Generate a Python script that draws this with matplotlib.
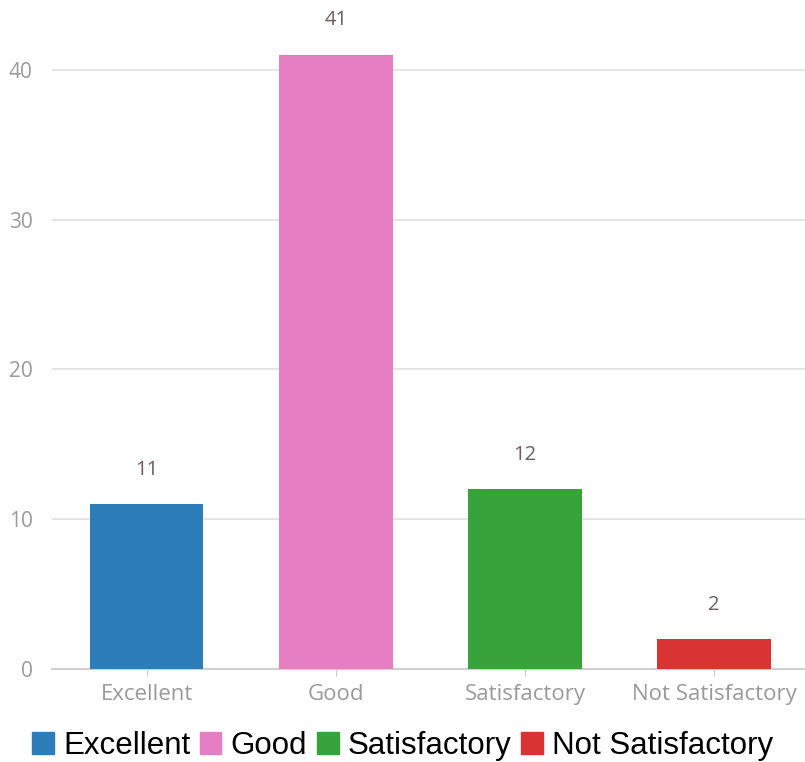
import matplotlib.pyplot as plt
from matplotlib.patches import Patch

categories = ["Excellent", "Good", "Satisfactory", "Not Satisfactory"]
counts = [11, 41, 12, 2]
colors = ["#2d7db8", "#e57ec3", "#38a33a", "#d93333"]
yticks = [0, 10, 20, 30, 40]

fig = plt.figure(figsize=(8.05, 7.62), dpi=100)
ax = fig.add_axes([52/805, 93/762, 753/805, 659/762])

x = range(len(categories))
ax.bar(x, counts, width=0.6, color=colors, zorder=3)
for i, v in enumerate(counts):
    ax.text(i, v + 2.3, str(v), ha="center", va="center",
            fontsize=14.5, color="#6e5e5e", family="Open Sans")

ax.set_xlim(-0.5, 3.48)
ax.set_ylim(0, 44)
ax.set_yticks(yticks)
ax.set_xticks(list(x))
ax.set_xticklabels(categories, fontsize=16, color="#9a9a9a", family="Open Sans")
ax.tick_params(axis="y", length=0, pad=14, labelsize=15, labelcolor="#9a9a9a")
for lab in ax.get_yticklabels():
    lab.set_family("Open Sans")
ax.tick_params(axis="x", length=5, color="#cccccc", pad=6)
ax.grid(axis="y", color="#e0e0e0", linewidth=1.2, zorder=0)
for s in ["top", "right", "left"]:
    ax.spines[s].set_visible(False)
ax.spines["bottom"].set_color("#d0d0d0")
ax.spines["bottom"].set_linewidth(1.5)

handles = [Patch(color=c, label=l) for c, l in zip(colors, categories)]
fig.legend(handles=handles, loc="center", bbox_to_anchor=(0.5, 16/762), ncol=4,
           frameon=False, prop={"family": "Liberation Sans", "size": 22.5},
           handlelength=0.7, handleheight=0.7, handletextpad=0.3, columnspacing=0.3,
           borderaxespad=0)

fig.savefig("out.png", dpi=100)
